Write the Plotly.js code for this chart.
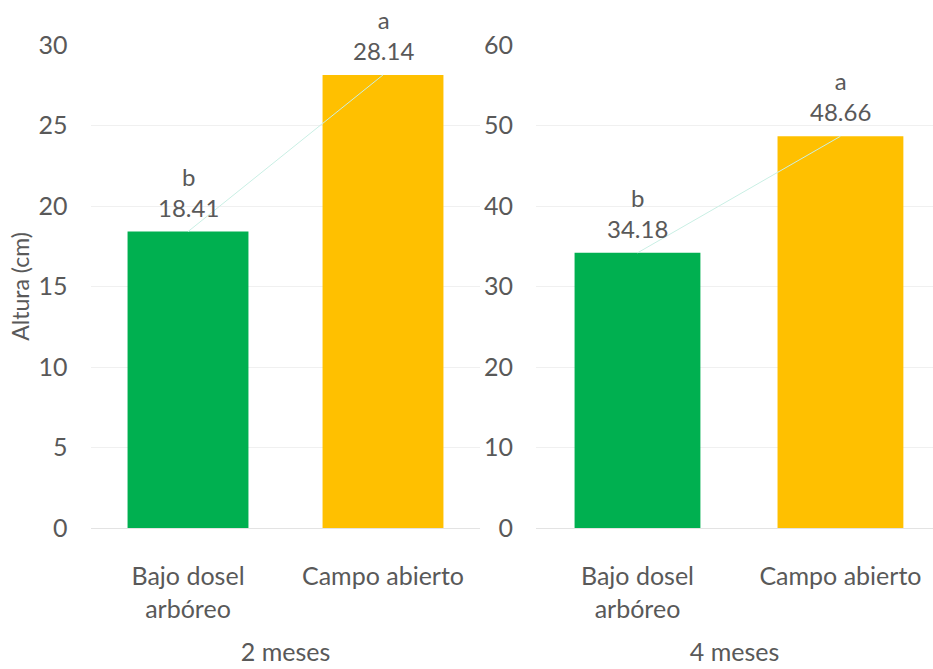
<!DOCTYPE html>
<html>
<head>
<meta charset="utf-8">
<script src="https://cdn.plot.ly/plotly-3.0.1.min.js"></script>
<style>html,body{margin:0;padding:0;background:#fff;}#chart{width:933px;height:669px;}</style>
</head>
<body>
<div id="chart"></div>
<script>
const categories = ["Bajo dosel<br>arbóreo", "Campo abierto"];
const letters2 = ["b", "a"];
const values2 = [18.41, 28.14];
const letters4 = ["b", "a"];
const values4 = [34.18, 48.66];
const periods = ["2 meses", "4 meses"];
const yTicks2 = [0, 5, 10, 15, 20, 25, 30];
const yTicks4 = [0, 10, 20, 30, 40, 50, 60];

const barColors = ["#00B050", "#FFC000"];
const textColor = "#595959";
const fontFam = "Lato, 'Open Sans', sans-serif";

const traces = [
  {type: "bar", x: categories, y: values2, xaxis: "x", yaxis: "y",
   marker: {color: barColors}, hoverinfo: "x+y"},
  {type: "scatter", mode: "lines", x: categories, y: values2, xaxis: "x", yaxis: "y",
   line: {color: "#c9efe4", width: 1}, hoverinfo: "skip"},
  {type: "bar", x: categories, y: values4, xaxis: "x2", yaxis: "y2",
   marker: {color: barColors}, hoverinfo: "x+y"},
  {type: "scatter", mode: "lines", x: categories, y: values4, xaxis: "x2", yaxis: "y2",
   line: {color: "#c9efe4", width: 1}, hoverinfo: "skip"}
];

function makeAnn(letters, vals, xref, yref) {
  return vals.map((v, i) => ({
    x: categories[i], y: v, xref: xref, yref: yref,
    text: letters[i] + "<br>" + v.toFixed(2), showarrow: false,
    yanchor: "bottom", yshift: 8,
    font: {size: 24, color: textColor, family: fontFam}
  }));
}

const axisX = (dom, title, range) => ({
  domain: dom, range: range, showline: false, ticks: "", showgrid: false, zeroline: false,
  ticklabelstandoff: 31,
  tickfont: {size: 25, color: textColor, family: fontFam},
  title: {text: title, font: {size: 25, color: textColor, family: fontFam}, standoff: 21},
  automargin: false
});
const axisY = (ticks, anchor) => ({
  anchor: anchor, range: [0, ticks[ticks.length - 1]], tickvals: ticks,
  showgrid: true, gridcolor: "#f0f0f0", gridwidth: 1, zeroline: true, zerolinecolor: "#e3e3e3",
  showline: false, ticks: "", ticklabelstandoff: 22,
  tickfont: {size: 25, color: textColor, family: fontFam}, automargin: false
});

const layout = {
  width: 933, height: 669,
  margin: {l: 0, r: 0, t: 45, b: 141},
  paper_bgcolor: "#fff", plot_bgcolor: "#fff",
  showlegend: false, bargap: 0.38,
  xaxis: axisX([0.097, 0.515], periods[0], [-0.5, 1.5]),
  yaxis: Object.assign(axisY(yTicks2, "x"), {
    title: {text: "Altura (cm)", font: {size: 23, color: textColor, family: fontFam}, standoff: 2}
  }),
  xaxis2: axisX([0.5745, 1.0], periods[1], [-0.5, 1.456]),
  yaxis2: axisY(yTicks4, "x2"),
  annotations: makeAnn(letters2, values2, "x", "y").concat(makeAnn(letters4, values4, "x2", "y2"))
};

Plotly.newPlot("chart", traces, layout, {displayModeBar: false, staticPlot: true});
</script>
</body>
</html>
